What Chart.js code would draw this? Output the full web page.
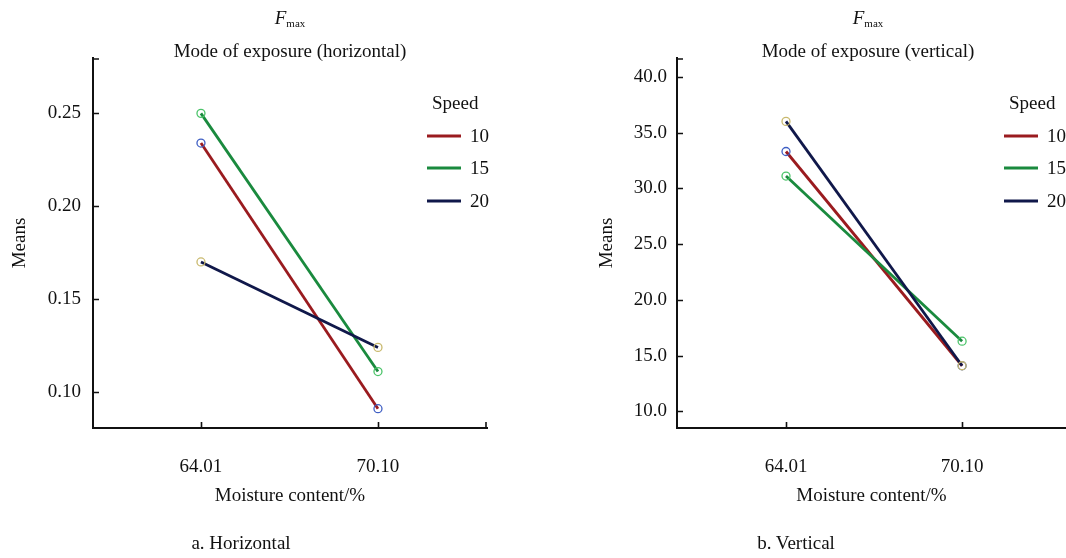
<!DOCTYPE html>
<html>
<head>
<meta charset="utf-8">
<script src="https://cdn.jsdelivr.net/npm/chart.js@4.4.1/dist/chart.umd.min.js"></script>
<style>
  html, body { margin:0; padding:0; background:#fff; }
  body { width:1066px; height:558px; position:relative; overflow:hidden; font-family:"Liberation Serif","Times New Roman",serif; color:#111; }
  canvas { position:absolute; top:0; }
  .t { position:absolute; white-space:nowrap; font-size:19px; line-height:22px; transform:translate(-50%,-50%); }
  .l { position:absolute; white-space:nowrap; font-size:19px; line-height:22px; transform:translateY(-50%); }
  .sw { position:absolute; height:3px; transform:translateY(-50%); }
  sub { font-size:11px; vertical-align:-3px; }
</style>
</head>
<body>
<canvas id="c1" width="533" height="558" style="left:0"></canvas>
<canvas id="c2" width="560" height="558" style="left:533px"></canvas>
<div id="overlay"></div>
<script>
// ---- data ----
const categories = ["64.01", "70.10"];
const speeds = ["10", "15", "20"];
const horizontal10 = [0.234, 0.091];
const horizontal15 = [0.250, 0.111];
const horizontal20 = [0.170, 0.124];
const vertical10 = [33.3, 14.1];
const vertical15 = [31.1, 16.3];
const vertical20 = [36.0, 14.1];
const horizontalTicks = [0.10, 0.15, 0.20, 0.25];
const verticalTicks = [10, 15, 20, 25, 30, 35, 40];

// ---- styles ----
const lineColors = ["#9a1b1f", "#1a8a3e", "#10184a"];
const markerColors = ["#3f5fc4", "#4cc46a", "#c9b96e"];
const drawOrder = [2, 1, 0];
const FONT = { family: "'Liberation Serif','Times New Roman',serif", size: 19 };
const INK = "#111";

const innerTicks = {
  id: "innerTicks",
  afterDraw(chart, args, opts) {
    const ctx = chart.ctx, a = chart.chartArea;
    const xs = chart.scales.x, ys = chart.scales.y;
    ctx.save();
    ctx.strokeStyle = INK;
    ctx.lineWidth = 1.6;
    ctx.beginPath();
    xs.ticks.forEach(t => {
      const px = Math.round(xs.getPixelForValue(t.value)) + 0.5;
      ctx.moveTo(px, a.bottom); ctx.lineTo(px, a.bottom - 6);
    });
    if (opts.xEnd) { ctx.moveTo(a.right - 1, a.bottom); ctx.lineTo(a.right - 1, a.bottom - 6); }
    ys.ticks.forEach(t => {
      const py = Math.round(ys.getPixelForValue(t.value)) + 0.5;
      ctx.moveTo(a.left, py); ctx.lineTo(a.left + 6, py);
    });
    ctx.moveTo(a.left, a.top + 1); ctx.lineTo(a.left + 6, a.top + 1);
    ctx.stroke();
    ctx.restore();
  }
};

function makeChart(id, cfg) {
  return new Chart(document.getElementById(id), {
    type: "line",
    data: {
      datasets: speeds.map((s, i) => ({
        label: s,
        data: cfg.values[i].map((v, j) => ({ x: j, y: v })),
        borderColor: lineColors[i],
        borderWidth: 2.8,
        pointRadius: 4,
        pointHoverRadius: 4,
        pointBorderWidth: 1.3,
        pointBorderColor: markerColors[i],
        pointBackgroundColor: "rgba(0,0,0,0)",
        order: drawOrder[i],
        tension: 0,
        fill: false
      }))
    },
    options: {
      responsive: false,
      animation: false,
      devicePixelRatio: 1,
      events: [],
      layout: { padding: { top: 58, right: cfg.padRight, bottom: 0, left: 0 } },
      plugins: { legend: { display: false }, tooltip: { enabled: false }, innerTicks: { xEnd: cfg.xEnd } },
      scales: {
        x: {
          type: "linear",
          min: cfg.xMin, max: cfg.xMax,
          grid: { display: false, drawTicks: false },
          border: { display: true, color: INK, width: 2 },
          afterBuildTicks: s => { s.ticks = categories.map((c, i) => ({ value: i })); },
          ticks: { callback: v => categories[v], font: FONT, color: INK, padding: 28, maxRotation: 0, autoSkip: false },
          title: { display: true, text: "Moisture content/%", font: FONT, color: INK, padding: { top: 0, bottom: 51 } },
          afterFit: s => { s.height = 130; }
        },
        y: {
          type: "linear",
          min: cfg.yMin, max: cfg.yMax,
          grid: { display: false, drawTicks: false },
          border: { display: true, color: INK, width: 2 },
          afterBuildTicks: s => { s.ticks = cfg.yTicks.map(v => ({ value: v })); },
          ticks: { callback: v => v.toFixed(cfg.dec), font: FONT, color: INK, padding: cfg.tickPad },
          title: { display: true, text: "Means", font: FONT, color: INK, padding: { top: cfg.titlePad, bottom: 0 } },
          afterFit: s => { s.width = cfg.yWidth; }
        }
      }
    },
    plugins: [innerTicks]
  });
}

const chartH = makeChart("c1", {
  values: [horizontal10, horizontal15, horizontal20],
  yTicks: horizontalTicks, dec: 2,
  yMin: 0.0806, yMax: 0.2798,
  xMin: -0.61, xMax: 1.616,
  padRight: 46, yWidth: 93, titlePad: 8.6, tickPad: 12, xEnd: true
});
const chartV = makeChart("c2", {
  values: [vertical10, vertical15, vertical20],
  yTicks: verticalTicks, dec: 1,
  yMin: 8.52, yMax: 41.68,
  xMin: -0.619, xMax: 1.59,
  padRight: 27, yWidth: 144, titlePad: 62.6, tickPad: 10, xEnd: false
});

// ---- text overlays & legends ----
const ov = document.getElementById("overlay");
function add(html, cls, x, y) {
  const d = document.createElement("div");
  d.className = cls; d.innerHTML = html;
  d.style.left = x + "px"; d.style.top = y + "px";
  ov.appendChild(d); return d;
}
const panels = [
  { cx: 290, title: "Mode of exposure (horizontal)", caption: "a. Horizontal", capX: 241, legX: 427, chart: chartH },
  { cx: 868, title: "Mode of exposure (vertical)", caption: "b. Vertical", capX: 796, legX: 1004, chart: chartV }
];
const legendRows = [136, 168, 201];
panels.forEach(p => {
  add("<i>F</i><sub>max</sub>", "t", p.cx, 20);
  add(p.title, "t", p.cx, 51);
  add(p.caption, "t", p.capX, 543);
  add("Speed", "l", p.legX + 5, 103);
  p.chart.data.datasets.forEach((ds, i) => {
    const sw = add("", "sw", p.legX, legendRows[i]);
    sw.style.width = "34px"; sw.style.background = ds.borderColor;
    add(ds.label, "l", p.legX + 43, legendRows[i]);
  });
});
</script>
</body>
</html>
